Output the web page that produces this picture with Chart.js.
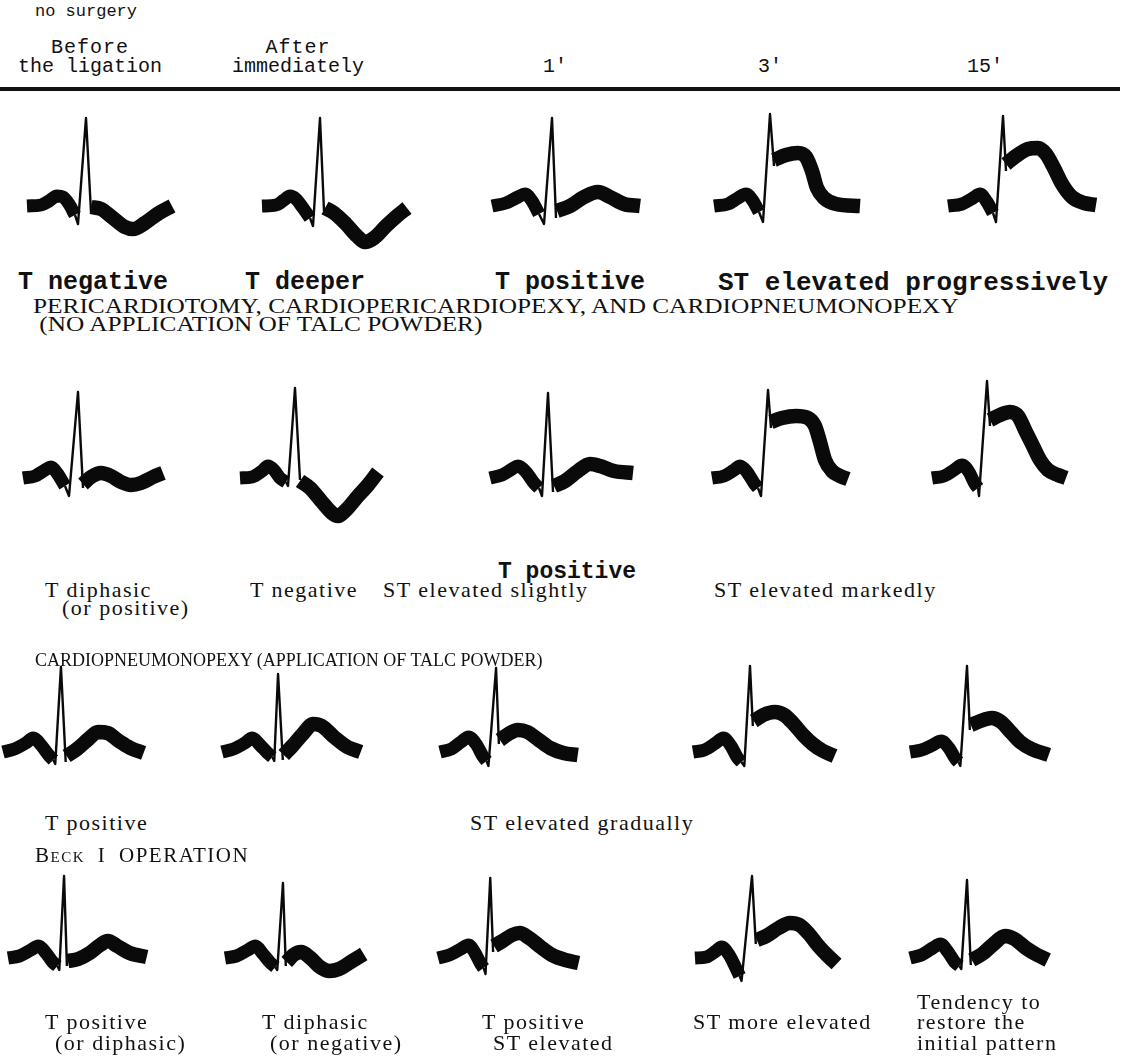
<!DOCTYPE html>
<html>
<head>
<meta charset="utf-8">
<script src="https://cdn.jsdelivr.net/npm/chart.js@4.4.0/dist/chart.umd.min.js"></script>
<style>
  body { margin: 0; background: #fff; width: 1124px; height: 1061px; position: relative; overflow: hidden; color: #111; }
  .t { position: absolute; white-space: pre; line-height: 1; transform-origin: 0 0; }
  .mono { font-family: "Liberation Mono", monospace; }
  .bold { font-weight: bold; }
  .serif { font-family: "Liberation Serif", serif; letter-spacing: 1.5px; }
  .head { font-family: "Liberation Serif", serif; }
  canvas.ecg { position: absolute; }
  .rule { position: absolute; left: 0; top: 87px; width: 1120px; height: 4px; background: #111; }
</style>
</head>
<body>
<div class="rule"></div>
<script>
// column headings (time after ligation)
const timeLabels = ['Before\nthe ligation', 'After\nimmediately', "1'", "3'", "15'"];

// each trace = [P wave part (thick), QRS (thin), ST-T part (thick)]
// x: px from left end of trace, y: px above its baseline
const noSurgery = [
  [[[0,0],[14,1],[22,5],[30,10],[36,9],[42,2],[48,-9]], [[48,-9],[51,-18],[59,88],[64,-6]], [[64,-1],[74,-3],[86,-12],[98,-21],[106,-23],[118,-17],[132,-7],[145,0]]],
  [[[0,0],[14,1],[22,6],[28,10],[34,7],[41,-2],[48,-12]], [[48,-12],[51,-20],[58,88],[62,-5]], [[63,-2],[72,-7],[84,-18],[95,-30],[103,-36],[112,-32],[124,-20],[135,-10],[145,-2]]],
  [[[0,0],[14,3],[26,9],[33,12],[40,5],[47,-8]], [[47,-8],[52,-18],[60,88],[64,-12]], [[65,-5],[78,0],[92,9],[106,14],[118,9],[132,2],[148,0]]],
  [[[0,0],[14,2],[24,8],[32,12],[39,5],[45,-6]], [[45,-6],[49,-16],[56,92],[60,40]], [[60,46],[72,51],[84,53],[92,49],[98,35],[103,18],[110,8],[122,2],[146,0]]],
  [[[0,0],[14,2],[25,8],[32,12],[39,4],[45,-7]], [[45,-7],[48,-16],[55,90],[58,35]], [[58,42],[68,50],[80,57],[90,58],[98,52],[106,38],[114,22],[124,9],[136,3],[148,1]]]
];

const pericardiotomy = [
  [[[0,0],[12,2],[22,8],[28,11],[34,5],[42,-8]], [[42,-8],[46,-18],[55,86],[60,-10]], [[60,-6],[68,1],[78,5],[88,2],[98,-4],[108,-7],[118,-5],[130,1],[140,5]]],
  [[[0,0],[12,1],[22,7],[28,12],[34,8],[40,0],[46,-4]], [[46,-4],[48,-8],[55,90],[60,-2]], [[60,-3],[70,-10],[82,-24],[92,-35],[98,-38],[106,-32],[118,-18],[128,-7],[138,6]]],
  [[[0,0],[12,3],[22,9],[28,12],[36,6],[44,-5],[49,-10]], [[49,-10],[52,-18],[58,85],[63,-14]], [[64,-8],[75,-3],[88,7],[100,14],[110,12],[124,7],[143,5]]],
  [[[0,0],[12,2],[22,8],[28,12],[35,6],[42,-5],[46,-10]], [[46,-10],[49,-18],[56,88],[59,50]], [[59,56],[70,60],[84,62],[96,60],[103,52],[108,36],[113,18],[120,7],[128,2],[136,-1]]],
  [[[0,0],[12,2],[22,8],[30,13],[37,6],[43,-6],[46,-10]], [[46,-10],[47,-18],[55,97],[58,52]], [[58,58],[68,63],[78,66],[86,62],[94,46],[101,32],[108,18],[116,8],[126,3],[134,0]]]
];

const talcPowder = [
  [[[0,0],[12,3],[24,9],[32,14],[40,7],[48,-3],[53,-8]], [[53,-8],[55,-12],[61,85],[66,-10]], [[67,-4],[78,3],[90,13],[100,20],[110,19],[122,11],[134,4],[148,-1]]],
  [[[0,0],[12,3],[24,9],[32,14],[40,7],[48,-1],[53,-5]], [[53,-5],[55,-9],[59,78],[64,-8]], [[65,-3],[74,6],[85,18],[96,28],[105,26],[118,15],[132,5],[146,0]]],
  [[[0,0],[12,3],[22,10],[30,15],[38,8],[45,-4],[49,-9]], [[49,-9],[51,-14],[59,84],[62,8]], [[63,12],[72,18],[82,22],[92,20],[104,12],[116,4],[130,-1],[145,-3]]],
  [[[0,0],[12,2],[24,9],[32,14],[40,6],[47,-6],[51,-10]], [[51,-10],[54,-14],[60,86],[63,26]], [[64,31],[74,37],[86,40],[96,37],[106,28],[116,17],[126,8],[137,1],[149,-4]]],
  [[[0,0],[12,2],[24,7],[33,11],[41,4],[48,-7],[51,-10]], [[51,-10],[53,-14],[60,86],[63,22]], [[64,27],[74,31],[86,34],[96,30],[106,20],[116,10],[128,3],[146,-3]]]
];

const beckOperation = [
  [[[0,0],[12,2],[24,8],[32,12],[40,5],[47,-4],[52,-8]], [[52,-8],[54,-12],[59,82],[62,-8]], [[63,-3],[74,-1],[86,5],[97,13],[105,17],[115,12],[128,5],[146,1]]],
  [[[0,0],[12,2],[24,8],[32,12],[40,4],[48,-5],[53,-9]], [[53,-9],[55,-12],[61,75],[64,-8]], [[65,-4],[72,3],[80,6],[90,0],[100,-9],[110,-13],[120,-11],[134,-3],[146,4]]],
  [[[0,0],[12,3],[24,9],[32,13],[39,5],[45,-6],[48,-10]], [[48,-10],[50,-16],[55,80],[58,6]], [[59,12],[68,17],[78,23],[86,25],[96,20],[108,11],[120,3],[134,-2],[148,-5]]],
  [[[0,0],[12,1],[22,7],[28,11],[36,3],[43,-10],[47,-18]], [[47,-18],[49,-23],[60,82],[64,14]], [[65,18],[75,22],[88,30],[100,35],[110,33],[120,24],[130,12],[140,2],[149,-6]]],
  [[[0,0],[12,3],[24,10],[32,14],[40,6],[47,-4],[52,-8]], [[52,-8],[54,-11],[60,78],[64,-7]], [[65,-2],[76,4],[88,14],[100,22],[110,19],[122,10],[134,3],[145,-2]]]
];

// where each row of traces sits on the page (sx = horizontal px per unit)
const rows = [
  { traces: noSurgery,      lefts: [27, 262, 492, 714, 948], base: 206, sx: 1 },
  { traces: pericardiotomy, lefts: [23, 240, 490, 712, 932], base: 478, sx: 1 },
  { traces: talcPowder,     lefts: [3, 222, 440, 693, 910],  base: 752, sx: 0.95 },
  { traces: beckOperation,  lefts: [8, 225, 438, 695, 910],  base: 958, sx: 0.95 }
];

const INK = '#0a0a0a';

function part(pts, width, smooth) {
  return {
    data: pts.map(p => ({ x: p[0], y: p[1] })),
    borderColor: INK,
    borderWidth: width,
    borderCapStyle: 'butt',
    borderJoinStyle: 'round',
    pointRadius: 0,
    fill: false,
    tension: smooth ? 0.4 : 0,
    cubicInterpolationMode: smooth ? 'monotone' : 'default'
  };
}

function drawTrace(trace, left, base, sx) {
  const W = 180, H = 170, padL = 12, top = 115;
  const c = document.createElement('canvas');
  c.className = 'ecg';
  c.width = W;
  c.height = H;
  c.style.left = (left - padL) + 'px';
  c.style.top = (base - top) + 'px';
  document.body.appendChild(c);
  new Chart(c, {
    type: 'line',
    data: { datasets: [part(trace[0], 13, true), part(trace[1], 2.4, false), part(trace[2], 14.5, true)] },
    options: {
      responsive: false,
      animation: false,
      events: [],
      layout: { padding: 0 },
      plugins: { legend: { display: false }, tooltip: { enabled: false } },
      scales: {
        x: { type: 'linear', display: false, min: -padL / sx, max: (W - padL) / sx },
        y: { type: 'linear', display: false, min: top - H, max: top }
      }
    }
  });
}

rows.forEach(r => r.traces.forEach((tr, i) => drawTrace(tr, r.lefts[i], r.base, r.sx)));

// text
function text(str, x, y, cls, size, center) {
  const d = document.createElement('div');
  d.className = 't ' + cls;
  d.textContent = str;
  d.style.left = x + 'px';
  d.style.top = y + 'px';
  d.style.fontSize = size + 'px';
  if (center) { d.style.transform = 'translateX(-50%)'; d.style.textAlign = 'center'; }
  document.body.appendChild(d);
  return d;
}

text('no surgery', 35, 3, 'mono', 17);
const headX = [90, 298, 555, 770, 985];
timeLabels.forEach((s, i) => {
  const lines = s.split('\n');
  if (lines.length === 2) {
    text(lines[0], headX[i], 38, 'mono', 20, true).style.letterSpacing = '1px';
    text(lines[1], headX[i], 57, 'mono', 20, true);
  } else {
    text(lines[0], headX[i], 57, 'mono', 20, true);
  }
});

text('T negative', 18, 270, 'mono bold', 25);
text('T deeper', 245, 270, 'mono bold', 25);
text('T positive', 495, 270, 'mono bold', 25);
text('ST elevated progressively', 718, 270, 'mono bold', 26);

text('PERICARDIOTOMY, CARDIOPERICARDIOPEXY, AND CARDIOPNEUMONOPEXY', 33, 295, 'head', 22).style.transform = 'scaleX(1.15)';
text(' (NO APPLICATION OF TALC POWDER)', 33, 313, 'head', 22).style.transform = 'scaleX(1.15)';

text('T positive', 498, 561, 'mono bold', 23);
text('T diphasic', 45, 579, 'serif', 22);
text('(or positive)', 62, 597, 'serif', 22);
text('T negative', 250, 579, 'serif', 22);
text('ST elevated slightly', 383, 579, 'serif', 22);
text('ST elevated markedly', 714, 579, 'serif', 22);

text('CARDIOPNEUMONOPEXY (APPLICATION OF TALC POWDER)', 35, 651, 'head', 18);
text('T positive', 45, 812, 'serif', 22);
text('ST elevated gradually', 470, 812, 'serif', 22);

const beck = text('', 35, 845, 'head serif', 21);
beck.style.wordSpacing = '6px';
beck.innerHTML = 'B<span style="font-variant:small-caps">eck</span> I OPERATION';

text('T positive', 45, 1011, 'serif', 22);
text('(or diphasic)', 55, 1032, 'serif', 22);
text('T diphasic', 262, 1011, 'serif', 22);
text('(or negative)', 270, 1032, 'serif', 22);
text('T positive', 482, 1011, 'serif', 22);
text('ST elevated', 493, 1032, 'serif', 22);
text('ST more elevated', 693, 1011, 'serif', 22);
text('Tendency to', 917, 991, 'serif', 22);
text('restore the', 917, 1011, 'serif', 22);
text('initial pattern', 917, 1032, 'serif', 22);
</script>
</body>
</html>
